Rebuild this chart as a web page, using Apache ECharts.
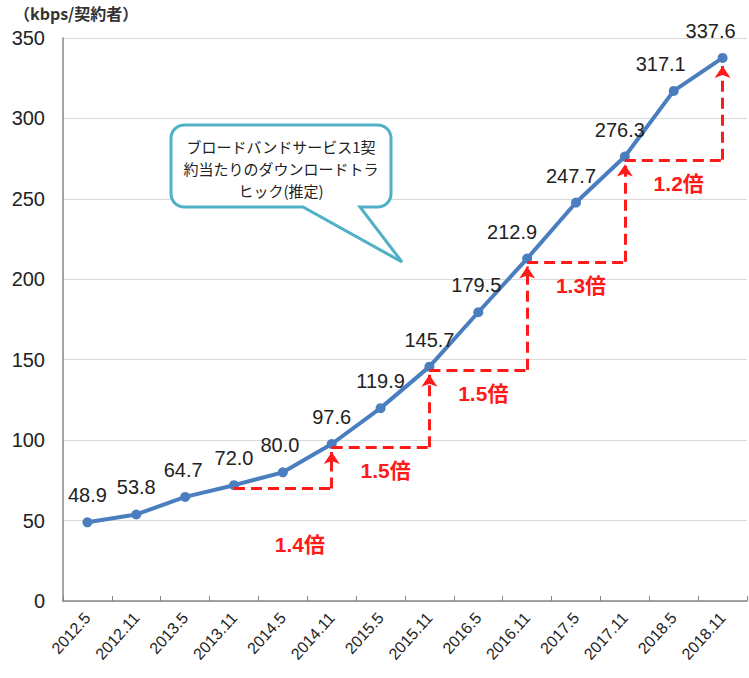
<!DOCTYPE html>
<html>
<head>
<meta charset="utf-8">
<script src="https://cdn.jsdelivr.net/npm/echarts@6/dist/echarts.min.js"></script>
<style>
html,body{margin:0;padding:0;background:#fff;}
#chart{width:749px;height:678px;}
</style>
</head>
<body>
<div id="chart"></div>
<script>
const categories = ['2012.5','2012.11','2013.5','2013.11','2014.5','2014.11','2015.5','2015.11','2016.5','2016.11','2017.5','2017.11','2018.5','2018.11'];
const values = [48.9,53.8,64.7,72.0,80.0,97.6,119.9,145.7,179.5,212.9,247.7,276.3,317.1,337.6];
const labelShiftX = [0,0,-2,0,-3,0,0,0,-2,-15,-5,-5,-13,-12];
const stepFrom = ['2013.11','2014.11','2015.11','2016.11','2017.11'];
const stepTo = ['2014.11','2015.11','2016.11','2017.11','2018.11'];
const stepRatio = ['1.4倍','1.5倍','1.5倍','1.3倍','1.2倍'];
const yMin = 0, yMax = 350, yInterval = 50;
const yAxisTitle = '（kbps/契約者）';
const calloutText = 'ブロードバンドサービス1契\n約当たりのダウンロードトラ\nヒック(推定)';

const FONT = '"Liberation Sans", Arial, "Noto Sans CJK JP", sans-serif';
const JFONT = '"Noto Sans CJK JP", sans-serif';
const val = c => values[categories.indexOf(c)];

const markData = [];
stepFrom.forEach((f, i) => {
  const t = stepTo[i];
  const base = val(f) - 2;
  const extra = i === 0 ? {distance: 46, offset: [17, 0]} : {distance: 13, offset: [5, 0]};
  markData.push([
    {coord: [f, base], symbol: 'none',
     label: Object.assign({show: true, position: 'insideMiddleBottom', formatter: stepRatio[i],
       color: '#ff1a1a', fontSize: 21, fontWeight: 'bold', fontFamily: FONT}, extra)},
    {coord: [t, base], symbol: 'none'}
  ]);
  markData.push([
    {coord: [t, base], symbol: 'none', label: {show: false}},
    {coord: [t, val(t) - 5], symbol: 'arrow', symbolSize: 12, label: {show: false}}
  ]);
});

// callout bubble outline (rounded box with tail)
function bubblePoints(x0, y0, x1, y1, r, tl, tr, tip) {
  const pts = [];
  const arc = (cx, cy, a0, a1) => {
    for (let k = 0; k <= 6; k++) {
      const a = a0 + (a1 - a0) * k / 6;
      pts.push([cx + r * Math.cos(a), cy + r * Math.sin(a)]);
    }
  };
  arc(x0 + r, y0 + r, Math.PI, Math.PI * 1.5);
  arc(x1 - r, y0 + r, Math.PI * 1.5, Math.PI * 2);
  arc(x1 - r, y1 - r, 0, Math.PI * 0.5);
  pts.push([tr, y1]); pts.push(tip); pts.push([tl, y1]);
  arc(x0 + r, y1 - r, Math.PI * 0.5, Math.PI);
  return pts;
}

const chart = echarts.init(document.getElementById('chart'), null, {renderer: 'svg'});
chart.setOption({
  animation: false,
  backgroundColor: '#fff',
  grid: {left: 63, right: 2, top: 38, bottom: 77},
  xAxis: {
    type: 'category',
    data: categories,
    boundaryGap: true,
    axisLine: {lineStyle: {color: '#868686', width: 1.5}},
    axisTick: {show: true, inside: true, length: 5, lineStyle: {color: '#868686'}},
    axisLabel: {rotate: 48, margin: 14, color: '#222', fontSize: 16, fontFamily: FONT, interval: 0}
  },
  yAxis: {
    type: 'value',
    min: yMin, max: yMax, interval: yInterval,
    axisLine: {show: true, lineStyle: {color: '#868686', width: 1.5}},
    axisTick: {show: false},
    axisLabel: {color: '#222', fontSize: 20, fontFamily: FONT, margin: 18},
    splitLine: {lineStyle: {color: '#d9d9d9', width: 1}}
  },
  series: [{
    type: 'line',
    data: values.map((v, i) => ({value: v, label: {offset: [labelShiftX[i], 0]}})),
    lineStyle: {color: '#4a7ebf', width: 4},
    itemStyle: {color: '#4a7ebf'},
    symbol: 'circle',
    symbolSize: 10,
    label: {show: true, position: 'top', distance: 12, color: '#222', fontSize: 20, fontFamily: FONT,
      formatter: p => p.value.toFixed(1)},
    markLine: {
      silent: true,
      animation: false,
      symbol: ['none', 'none'],
      lineStyle: {type: [11, 6], color: '#ff1a1a', width: 3},
      data: markData
    },
    z: 3
  }],
  graphic: [
    {type: 'text', left: 14, top: 5,
     style: {text: yAxisTitle, font: 'bold 16px ' + JFONT, fill: '#333'}},
    {type: 'polygon', z: 10,
     shape: {points: bubblePoints(171, 125, 391, 207, 13, 303, 360, [402, 262])},
     style: {fill: '#fff', stroke: '#4fb0c6', lineWidth: 3}},
    {type: 'text', z: 11, x: 281, y: 135,
     style: {text: calloutText, font: '15px ' + JFONT, fill: '#222', align: 'center', verticalAlign: 'top', lineHeight: 22}}
  ]
});
</script>
</body>
</html>
